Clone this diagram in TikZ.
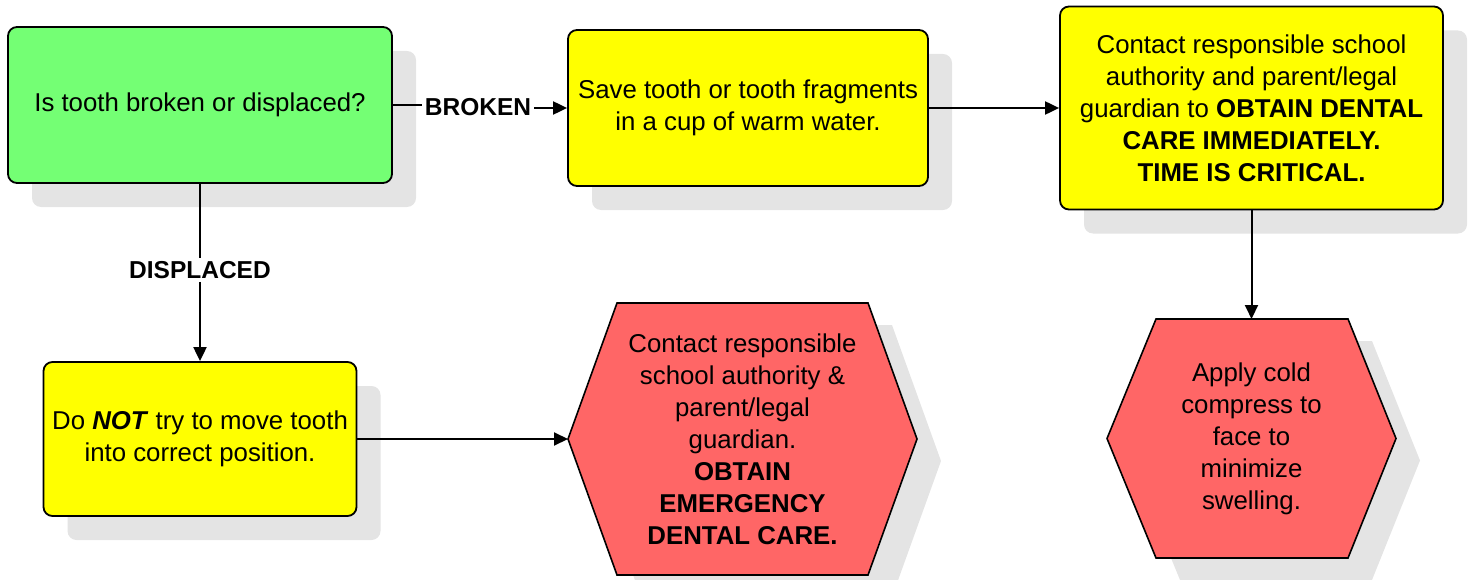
\documentclass[tikz,border=0pt]{standalone}
\usepackage{fontspec}
\setmainfont{Liberation Sans}
\usetikzlibrary{arrows.meta, positioning, shadows}
\definecolor{askgreen}{RGB}{116,255,116}
\definecolor{stepyellow}{RGB}{255,255,0}
\definecolor{alertred}{RGB}{255,102,102}
\definecolor{shadowgray}{RGB}{228,228,228}

\begin{document}
\begin{tikzpicture}[
    x=1pt, y=-1pt,
    font=\fontsize{25.8}{32}\selectfont,
    card/.style={
        rectangle, rounded corners=9pt,
        draw=black, line width=1.8pt,
        inner sep=0pt, align=center,
        drop shadow={shadow xshift=24pt,
            shadow yshift=-24pt,
            fill=shadowgray, opacity=1}
    },
    hexshape/.style={
        draw=black, line width=1.6pt,
        fill=alertred,
        drop shadow={shadow xshift=24pt,
            shadow yshift=-22pt,
            fill=shadowgray, opacity=1}
    },
    lbl/.style={font=\fontsize{24.5}{30}\selectfont\bfseries,
        inner sep=3pt},
    link/.style={line width=2pt},
    arr/.style={-{Triangle[length=14pt, width=13pt]},
        line width=2pt}
]
\useasboundingbox (0,0) rectangle (1471,580);

% rounded boxes
\node[card, fill=askgreen, minimum width=384pt,
    minimum height=156pt] (ask) at (200,105)
    {Is tooth broken or displaced?};
\node[card, fill=stepyellow, minimum width=360pt,
    minimum height=156pt] (save) at (748,108)
    {Save tooth or tooth fragments\\in a cup of warm water.};
\node[card, fill=stepyellow, minimum width=383pt,
    minimum height=203pt] (call) at (1251.5,108)
    {Contact responsible school\\authority and parent/legal\\
     guardian to \textbf{OBTAIN DENTAL}\\
     \textbf{CARE IMMEDIATELY.}\\\textbf{TIME IS CRITICAL.}};
\node[card, fill=stepyellow, minimum width=313pt,
    minimum height=154pt] (keep) at (200,439)
    {Do \textbf{\textit{NOT}} try to move tooth\\into correct position.};

% hexagons
\path[hexshape] (568,439) -- (617,303) -- (868,303)
    -- (917,439) -- (868,575) -- (617,575) -- cycle;
\coordinate (emergW) at (568,439);
\node[align=center] (emerg) at (742.5,439)
    {Contact responsible\\school authority \&\\parent/legal\\guardian.\\
     \textbf{OBTAIN}\\\textbf{EMERGENCY}\\\textbf{DENTAL CARE.}};

\path[hexshape] (1107,438.5) -- (1156,319) -- (1348,319)
    -- (1396,438.5) -- (1348,558) -- (1156,558) -- cycle;
\coordinate (coldN) at (1251.5,319);
\node[align=center] (cold) at (1251.5,438.5)
    {Apply cold\\compress to\\face to\\minimize\\swelling.};

% labels
\node[lbl] (broken) at (478,107) {BROKEN};
\node[lbl] (displaced) at (200,270) {DISPLACED};

% connectors
\draw[link] (ask.east) -- (ask.east -| broken.west);
\draw[arr] (broken.east |- save.west) -- (save.west);
\draw[arr] (save.east) -- (call.west);
\draw[link] (ask.south) -- (displaced.north);
\draw[arr] (displaced.south) -- (keep.north);
\draw[arr] (keep.east) -- (emergW);
\draw[arr] (call.south) -- (coldN);
\end{tikzpicture}
\end{document}
